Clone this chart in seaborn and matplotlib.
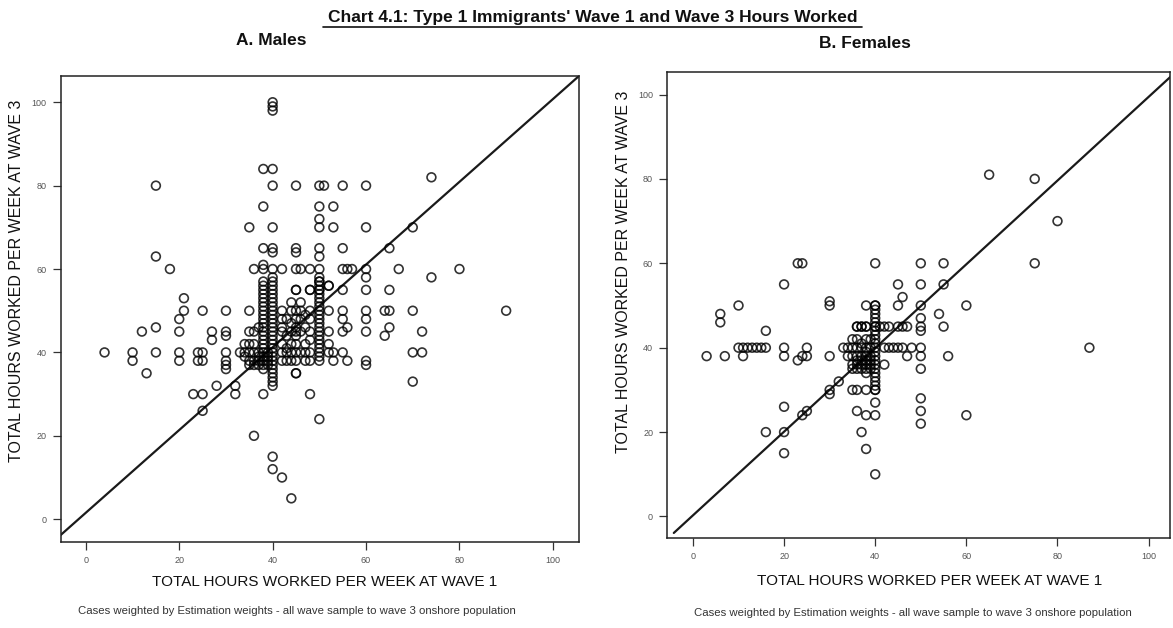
import matplotlib
matplotlib.use("Agg")
import matplotlib.pyplot as plt
from matplotlib import font_manager
from matplotlib.lines import Line2D
import seaborn as sns
import pandas as pd

# ---------------- data ----------------
ticks = [0, 20, 40, 60, 80, 100]
title = "Chart 4.1: Type 1 Immigrants' Wave 1 and Wave 3 Hours Worked"
panel_titles = ["A. Males", "B. Females"]
xlabel = "TOTAL HOURS WORKED PER WEEK AT WAVE 1"
ylabel = "TOTAL HOURS WORKED PER WEEK AT WAVE 3"
caption = "Cases weighted by Estimation weights - all wave sample to wave 3 onshore population"

male_sparse_w1 = [40, 40, 40, 38, 40, 15, 40, 45, 50, 51, 55, 60, 74, 38, 50, 53, 50,
                  35, 40, 50, 53, 60, 70, 38, 40, 40, 45, 45, 50, 50, 55, 65, 15, 18,
                  36, 38, 38, 40, 42, 45, 46, 48, 50, 55, 56, 57, 60, 60, 67, 74, 80,
                  50, 52, 45, 48, 50, 55, 60, 65, 21, 21, 25, 30, 35, 55, 60, 64, 65,
                  70, 90, 20, 55, 60, 15, 65, 56, 12, 20, 27, 30, 30, 55, 60, 72, 64,
                  27, 4, 10, 10, 15, 20, 20, 24, 25, 24, 25, 30, 30, 30, 30, 55, 56,
                  60, 60, 70, 72, 70, 13, 28, 32, 32, 23, 25, 38, 48, 25, 45, 50, 36,
                  40, 40, 42, 44]
male_sparse_w3 = [98, 99, 100, 84, 84, 80, 80, 80, 80, 80, 80, 80, 82, 75, 75, 75, 72,
                  70, 70, 70, 70, 70, 70, 65, 65, 64, 65, 64, 65, 63, 65, 65, 63, 60,
                  60, 61, 60, 60, 60, 60, 60, 60, 60, 60, 60, 60, 60, 58, 60, 58, 60,
                  57, 56, 55, 55, 55, 55, 55, 55, 53, 50, 50, 50, 50, 50, 50, 50, 50,
                  50, 50, 48, 48, 48, 46, 46, 46, 45, 45, 45, 45, 44, 45, 45, 45, 44,
                  43, 40, 40, 38, 40, 40, 38, 40, 40, 38, 38, 40, 38, 37, 36, 40, 38,
                  38, 37, 40, 40, 33, 35, 32, 32, 30, 30, 30, 30, 30, 26, 35, 24, 20,
                  15, 12, 10, 5]

male_dense_w1 = ([38] * 22 + [40] * 27 + [39] * 4 + [37] * 5 + [36] * 5 + [35] * 5
                 + [34] * 3 + [33] * 1 + [42] * 7 + [43] * 5 + [44] * 7 + [45] * 10
                 + [46] * 5 + [47] * 5 + [48] * 7 + [50] * 21 + [52] * 5 + [53] * 2)
male_dense_w3 = ([57, 56, 55, 54, 53, 52, 51, 50, 49, 48, 47, 46, 45, 44, 43, 42, 41, 40, 39, 38, 37, 36]
                 + [58, 57, 56, 55, 54, 53, 52, 51, 50, 49, 48, 47, 46, 45, 44, 43, 42, 41, 40, 39, 38, 37, 36, 35, 34, 33, 32]
                 + [40, 39, 38, 37]
                 + [46, 40, 39, 38, 37]
                 + [45, 42, 40, 38, 37]
                 + [45, 42, 40, 38, 37]
                 + [42, 40, 39]
                 + [40]
                 + [50, 48, 46, 45, 42, 40, 38]
                 + [48, 44, 41, 40, 38]
                 + [52, 50, 47, 45, 42, 40, 38]
                 + [55, 50, 48, 46, 45, 44, 42, 40, 38, 35]
                 + [52, 50, 48, 45, 40]
                 + [49, 46, 42, 40, 38]
                 + [55, 50, 48, 45, 43, 40, 38]
                 + [58, 57, 56, 55, 54, 53, 52, 51, 50, 49, 48, 47, 46, 45, 44, 43, 42, 41, 40, 39, 38]
                 + [56, 50, 45, 42, 40]
                 + [40, 38])

female_sparse_w1 = [65, 75, 80, 75, 87, 23, 24, 40, 50, 55, 20, 45, 50, 55, 46, 10, 30,
                    30, 38, 40, 45, 50, 60, 6, 6, 54, 50, 50, 50, 55, 16,
                    36, 37, 38, 40, 41, 42, 43, 45, 46, 47,
                    10, 11, 12, 13, 14, 15, 16, 20, 25,
                    3, 7, 11, 20, 24, 25, 30, 23,
                    42, 43, 44, 45, 46, 48, 50, 47, 50, 56, 42, 50,
                    32, 30, 30, 35, 36, 38, 40, 40, 36, 38, 40, 50, 50, 50, 60, 20,
                    24, 25, 16, 20, 20, 37, 38, 40]
female_sparse_w3 = [81, 80, 70, 60, 40, 60, 60, 60, 60, 60, 55, 55, 55, 55, 52, 50, 51,
                    50, 50, 50, 50, 50, 50, 48, 46, 48, 47, 45, 44, 45, 44,
                    45, 45, 45, 45, 45, 45, 45, 45, 45, 45,
                    40, 40, 40, 40, 40, 40, 40, 40, 40,
                    38, 38, 38, 38, 38, 38, 38, 37,
                    40, 40, 40, 40, 40, 40, 40, 38, 38, 38, 36, 35,
                    32, 30, 29, 30, 30, 30, 30, 27, 25, 24, 24, 28, 25, 22, 24, 26,
                    24, 25, 20, 20, 15, 20, 16, 10]

female_dense_w1 = ([40] * 21 + [39] * 6 + [38] * 9 + [37] * 7 + [36] * 7 + [35] * 5
                   + [34] * 2 + [33] * 1)
female_dense_w3 = ([50, 49, 48, 47, 46, 45, 44, 43, 42, 41, 40, 39, 38, 37, 36, 35, 34, 33, 32, 31, 30]
                   + [42, 40, 38, 37, 36, 35]
                   + [45, 42, 40, 39, 38, 37, 36, 35, 34]
                   + [45, 41, 40, 38, 37, 36, 35]
                   + [45, 42, 40, 38, 37, 36, 35]
                   + [42, 40, 38, 36, 35]
                   + [40, 38]
                   + [40])

# reference (equality) line ends, in data units, as drawn in each panel
male_ref_x = [-5.4, 105.6]
male_ref_y = [-3.8, 106.3]
female_ref_x = [-4.2, 105.0]
female_ref_y = [-3.9, 104.4]

males = pd.DataFrame({"w1": male_sparse_w1 + male_dense_w1,
                      "w3": male_sparse_w3 + male_dense_w3})
females = pd.DataFrame({"w1": female_sparse_w1 + female_dense_w1,
                        "w3": female_sparse_w3 + female_dense_w3})

# ---------------- style ----------------
sns.set_style("white")
names = {f.name for f in font_manager.fontManager.ttflist}
narrow = "Liberation Sans Narrow" if "Liberation Sans Narrow" in names else "Liberation Sans"
plt.rcParams["font.family"] = [narrow, "DejaVu Sans"]

fig = plt.figure(figsize=(11.73, 6.28), dpi=100)
fig.patch.set_facecolor("white")

ax_m = fig.add_axes([0.0517, 0.1374, 0.4419, 0.7416])
ax_f = fig.add_axes([0.5686, 0.1433, 0.4285, 0.7425])

panels = [
    (ax_m, males, (-5.4, 105.6), (-5.4, 106.3), male_ref_x, male_ref_y),
    (ax_f, females, (-5.7, 104.6), (-5.1, 105.4), female_ref_x, female_ref_y),
]

for ax, df, xl, yl, rx, ry in panels:
    sns.scatterplot(data=df, x="w1", y="w3", ax=ax, marker="o", s=40,
                    facecolor="none", edgecolor="black", linewidth=1.2,
                    alpha=0.8, legend=False, zorder=3)
    sns.lineplot(x=rx, y=ry, ax=ax, color="#1a1a1a", linewidth=1.6, zorder=2)
    ax.set_xlim(*xl)
    ax.set_ylim(*yl)
    ax.set_xticks(ticks)
    ax.set_yticks(ticks)
    ax.set_xticklabels([str(t) for t in ticks])
    ax.set_yticklabels([str(t) for t in ticks])
    ax.tick_params(axis="both", direction="out", length=6, width=0.9,
                   color="#333333", labelsize=6.5, labelcolor="#555555", pad=4,
                   bottom=True, left=True)
    for sp in ax.spines.values():
        sp.set_visible(True)
        sp.set_color("#222222")
        sp.set_linewidth(1.1)
    ax.set_xlabel(xlabel, fontsize=11, color="#111111")
    ax.set_ylabel(ylabel, fontsize=11.5, color="#111111")

ax_m.xaxis.set_label_coords(0.509, -0.071)
ax_f.xaxis.set_label_coords(0.522, -0.078)
ax_m.yaxis.set_label_coords(-0.071, 0.56)
ax_f.yaxis.set_label_coords(-0.072, 0.57)

# titles
fig.text(0.505, 0.972, title, ha="center", va="center", fontsize=12.5,
         fontweight="bold", color="#111111")
fig.add_artist(Line2D([0.275, 0.735], [0.957, 0.957], transform=fig.transFigure,
                      color="#111111", linewidth=1.2))
fig.text(0.231, 0.935, panel_titles[0], ha="center", va="center", fontsize=12.5,
         fontweight="bold", color="#111111")
fig.text(0.737, 0.931, panel_titles[1], ha="center", va="center", fontsize=12.5,
         fontweight="bold", color="#111111")

fig.text(0.253, 0.027, caption, ha="center", va="center", fontsize=8.2, color="#333333")
fig.text(0.778, 0.024, caption, ha="center", va="center", fontsize=8.2, color="#333333")

fig.savefig("out.png", dpi=100, facecolor="white")
